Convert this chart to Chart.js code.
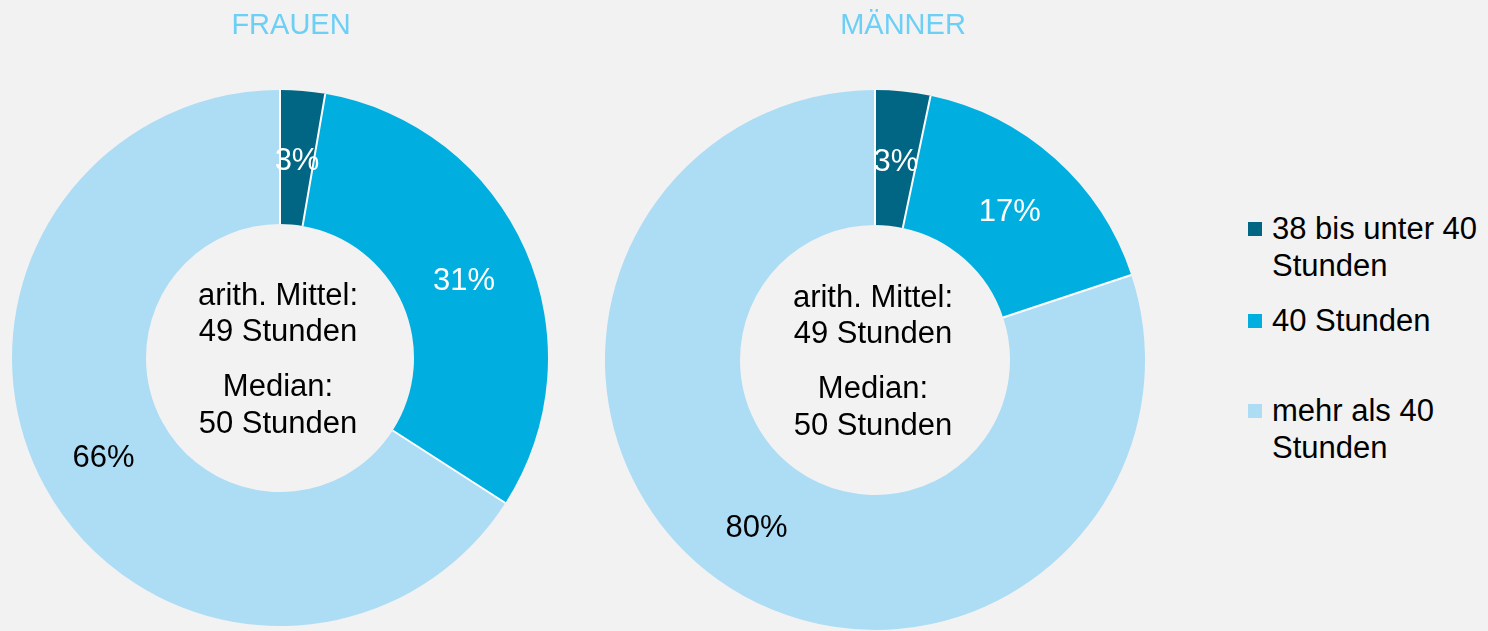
<!DOCTYPE html>
<html lang="de">
<head>
<meta charset="utf-8">
<title>Wochenarbeitszeit Frauen und Männer</title>
<script src="https://cdn.jsdelivr.net/npm/chart.js@4.4.0/dist/chart.umd.min.js"></script>
<style>
    html, body { margin: 0; padding: 0; background: #f2f2f2; }
    body { width: 1488px; height: 631px; position: relative; overflow: hidden; font-family: 'Liberation Sans', Arial, sans-serif; }
    #chart-frauen { position: absolute; left: 0; top: 0; }
    #chart-maenner { position: absolute; left: 593px; top: 0; }
    #legend { position: absolute; left: 1248px; top: 0; list-style: none; margin: 0; padding: 0; font-size: 31px; line-height: 37px; color: #000; }
    #legend li { position: relative; padding-left: 24px; width: 216px; }
    #legend .swatch { position: absolute; left: 0; top: 12px; width: 14px; height: 14px; }
    #legend li:nth-child(1) { margin-top: 210px; }
    #legend li:nth-child(2) { margin-top: 18px; }
    #legend li:nth-child(3) { margin-top: 53px; }
</style>
</head>
<body>
<canvas id="chart-frauen" width="582" height="631"></canvas>
<canvas id="chart-maenner" width="620" height="631"></canvas>
<ul id="legend"></ul>

<script>
// Data
const categories = ['38 bis unter 40 Stunden', '40 Stunden', 'mehr als 40 Stunden'];
const frauenValues = [2.7, 31.4, 65.9];
const maennerValues = [3.3, 16.6, 80.1];
const titles = ['FRAUEN', 'MÄNNER'];
const frauenCenterText = ['arith. Mittel:', '49 Stunden', 'Median:', '50 Stunden'];
const maennerCenterText = ['arith. Mittel:', '49 Stunden', 'Median:', '50 Stunden'];

// Styles
const sliceColors = ['#006684', '#00aedf', '#addcf5'];
const labelColors = ['#ffffff', '#ffffff', '#000000'];
const titleColor = '#6ccff6';
const FONT = "'Liberation Sans', Arial, sans-serif";

Chart.defaults.font.family = FONT;

/**
 * White separators between slices (radial only, no outline round the ring)
 */
const sliceSeparators = {
    id: 'sliceSeparators',
    afterDatasetsDraw(chart) {
        const ctx = chart.ctx;
        ctx.save();
        ctx.strokeStyle = '#ffffff';
        ctx.lineWidth = 2;
        chart.getDatasetMeta(0).data.forEach(arc => {
            const a = arc.startAngle;
            ctx.beginPath();
            ctx.moveTo(arc.x + Math.cos(a) * arc.innerRadius, arc.y + Math.sin(a) * arc.innerRadius);
            ctx.lineTo(arc.x + Math.cos(a) * arc.outerRadius, arc.y + Math.sin(a) * arc.outerRadius);
            ctx.stroke();
        });
        ctx.restore();
    }
};

/**
 * Draws the percentage on each slice, at the middle of the ring
 */
const sliceLabels = {
    id: 'sliceLabels',
    afterDatasetsDraw(chart) {
        const ctx = chart.ctx;
        const meta = chart.getDatasetMeta(0);
        const values = chart.data.datasets[0].data;
        ctx.save();
        ctx.font = '31px ' + FONT;
        ctx.textAlign = 'center';
        ctx.textBaseline = 'middle';
        meta.data.forEach((arc, i) => {
            const pos = arc.tooltipPosition();
            ctx.fillStyle = labelColors[i];
            ctx.fillText(Math.round(values[i]) + '%', pos.x, pos.y + 4);
        });
        ctx.restore();
    }
};

/**
 * Draws the mean / median text in the hole and the title above
 */
const centerText = {
    id: 'centerText',
    afterDraw(chart, args, opts) {
        const ctx = chart.ctx;
        const arc = chart.getDatasetMeta(0).data[0];
        const offsets = [-62, -26, 29, 66];
        ctx.save();
        ctx.textAlign = 'center';
        ctx.textBaseline = 'middle';
        ctx.font = '31px ' + FONT;
        ctx.fillStyle = '#000';
        opts.lines.forEach((line, i) => {
            ctx.fillText(line, arc.x - 2, arc.y + offsets[i]);
        });
        ctx.font = '29px ' + FONT;
        ctx.fillStyle = titleColor;
        ctx.fillText(opts.title, chart.width / 2, 26);
        ctx.restore();
    }
};

function makeDoughnut(canvasId, title, values, lines, padding) {
    const ctx = document.getElementById(canvasId).getContext('2d');
    return new Chart(ctx, {
        type: 'doughnut',
        data: {
            labels: categories,
            datasets: [{
                data: values,
                backgroundColor: sliceColors,
                borderWidth: 0
            }]
        },
        options: {
            responsive: false,
            animation: false,
            devicePixelRatio: 1,
            cutout: '50%',
            layout: { padding },
            plugins: {
                legend: { display: false },
                tooltip: { enabled: false },
                centerText: { lines, title }
            }
        },
        plugins: [sliceSeparators, sliceLabels, centerText]
    });
}

makeDoughnut('chart-frauen', titles[0], frauenValues, frauenCenterText,
    { left: 12, right: 34, top: 90, bottom: 5 });
makeDoughnut('chart-maenner', titles[1], maennerValues, maennerCenterText,
    { left: 12, right: 68, top: 90, bottom: 1 });

// Legend
const legend = document.getElementById('legend');
categories.forEach((cat, i) => {
    const li = document.createElement('li');
    const sw = document.createElement('span');
    sw.className = 'swatch';
    sw.style.background = sliceColors[i];
    li.appendChild(sw);
    li.appendChild(document.createTextNode(cat));
    legend.appendChild(li);
});
</script>
</body>
</html>
